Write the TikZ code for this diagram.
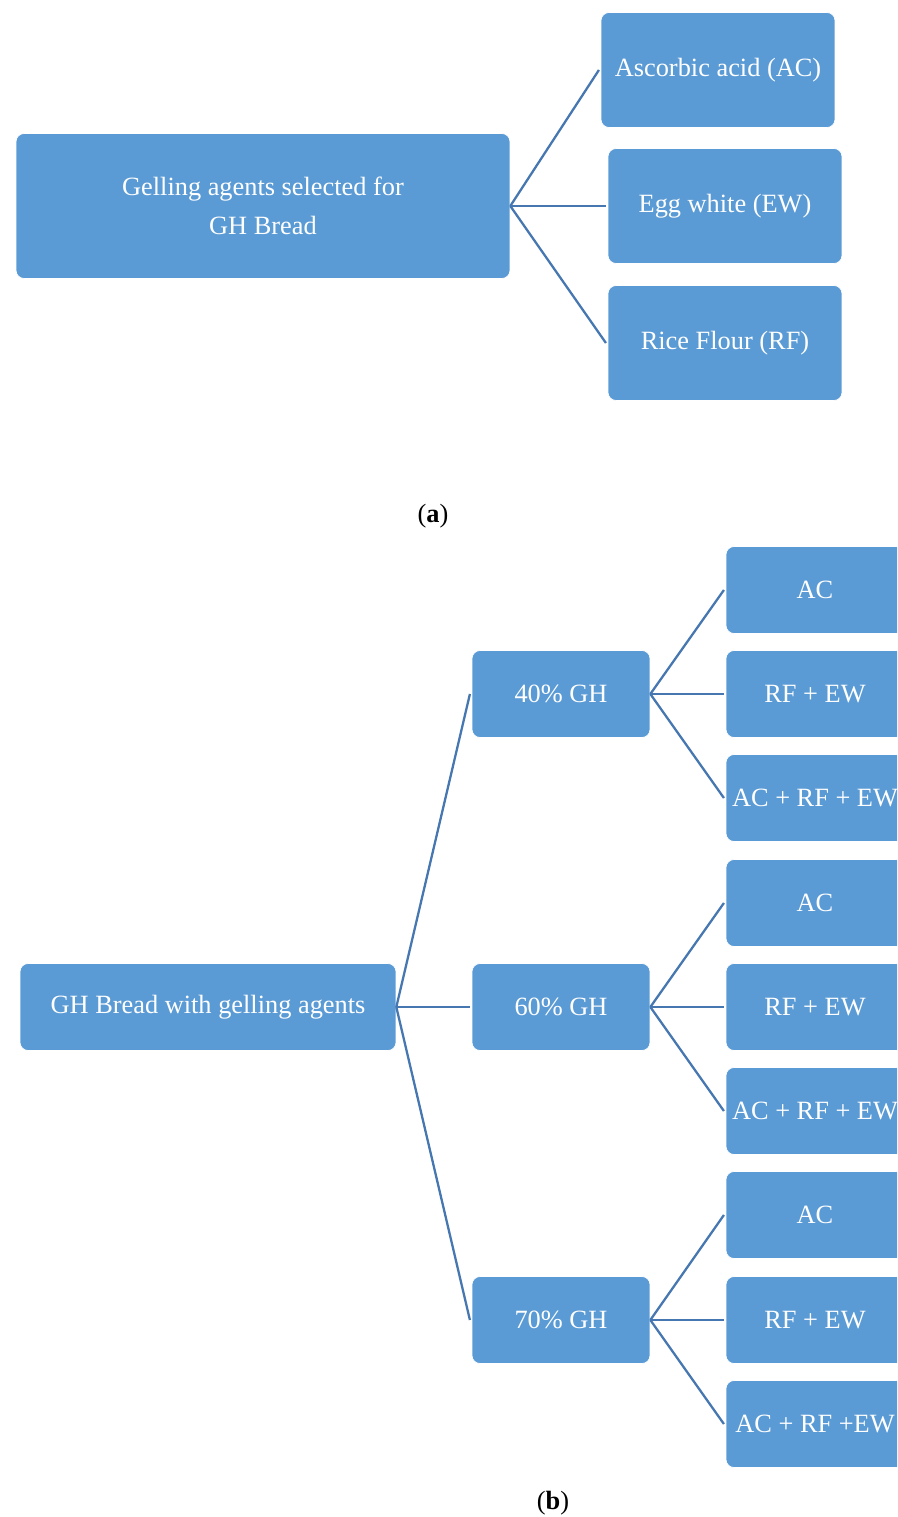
\documentclass[tikz,border=0pt]{standalone}
\usepackage{fontspec}
\setmainfont{Liberation Serif}
\usepackage{tikz}
\definecolor{ghBlue}{HTML}{5B9BD5}
\definecolor{ghLine}{HTML}{4677B0}

\begin{document}
\begin{tikzpicture}[x=0.02cm,y=-0.02cm,
    box/.style={fill=ghBlue, draw=white, line width=0.4pt, rounded corners=0.16cm, inner sep=0pt,
                text=white, align=center, font=\fontsize{15}{22}\selectfont},
    link/.style={draw=ghLine, line width=1.3pt}]
    \useasboundingbox (0,0) rectangle (897,1517);
    \clip (0,0) rectangle (897,1517);
    % (a)
    \node[box, minimum width=9.88cm, minimum height=2.9cm] (gel) at (263,206) {Gelling agents selected for\\GH Bread};
    \node[box, minimum width=4.68cm, minimum height=2.3cm] (asc) at (718,70) {Ascorbic acid (AC)};
    \node[box, minimum width=4.68cm, minimum height=2.3cm] (egg) at (725,206) {Egg white (EW)};
    \node[box, minimum width=4.68cm, minimum height=2.3cm] (rice) at (725,343) {Rice Flour (RF)};
    \draw[link] (gel.east) -- ([xshift=-1]asc.west);
    \draw[link] (gel.east) -- ([xshift=-1]egg.west);
    \draw[link] (gel.east) -- ([xshift=-1]rice.west);
    \node[font=\fontsize{15}{18}\selectfont] (capa) at (433,516) {(\textbf{a})};
    % (b)
    \node[box, minimum width=7.52cm, minimum height=1.74cm] (root) at (208,1007) {GH Bread with gelling agents};
    \node[box, minimum width=3.56cm, minimum height=1.74cm] (gh40) at (561,694) {40\% GH};
    \node[box, minimum width=3.56cm, minimum height=1.74cm] (gh60) at (561,1007) {60\% GH};
    \node[box, minimum width=3.56cm, minimum height=1.74cm] (gh70) at (561,1320) {70\% GH};
    \draw[link] (root.east) -- ([xshift=-1]gh40.west);
    \draw[link] (root.east) -- ([xshift=-1]gh60.west);
    \draw[link] (root.east) -- ([xshift=-1]gh70.west);
    \node[box, minimum width=3.56cm, minimum height=1.74cm] (ac40) at (815,590) {AC};
    \node[box, minimum width=3.56cm, minimum height=1.74cm] (rfew40) at (815,694) {RF + EW};
    \node[box, minimum width=3.56cm, minimum height=1.74cm] (all40) at (815,798) {AC + RF + EW};
    \node[box, minimum width=3.56cm, minimum height=1.74cm] (ac60) at (815,903) {AC};
    \node[box, minimum width=3.56cm, minimum height=1.74cm] (rfew60) at (815,1007) {RF + EW};
    \node[box, minimum width=3.56cm, minimum height=1.74cm] (all60) at (815,1111) {AC + RF + EW};
    \node[box, minimum width=3.56cm, minimum height=1.74cm] (ac70) at (815,1215) {AC};
    \node[box, minimum width=3.56cm, minimum height=1.74cm] (rfew70) at (815,1320) {RF + EW};
    \node[box, minimum width=3.56cm, minimum height=1.74cm] (all70) at (815,1424) {AC + RF +EW};
    \draw[link] (gh40.east) -- ([xshift=-1]ac40.west);
    \draw[link] (gh40.east) -- ([xshift=-1]rfew40.west);
    \draw[link] (gh40.east) -- ([xshift=-1]all40.west);
    \draw[link] (gh60.east) -- ([xshift=-1]ac60.west);
    \draw[link] (gh60.east) -- ([xshift=-1]rfew60.west);
    \draw[link] (gh60.east) -- ([xshift=-1]all60.west);
    \draw[link] (gh70.east) -- ([xshift=-1]ac70.west);
    \draw[link] (gh70.east) -- ([xshift=-1]rfew70.west);
    \draw[link] (gh70.east) -- ([xshift=-1]all70.west);
    \node[font=\fontsize{15}{18}\selectfont] (capb) at (553,1503) {(\textbf{b})};
\end{tikzpicture}
\end{document}
